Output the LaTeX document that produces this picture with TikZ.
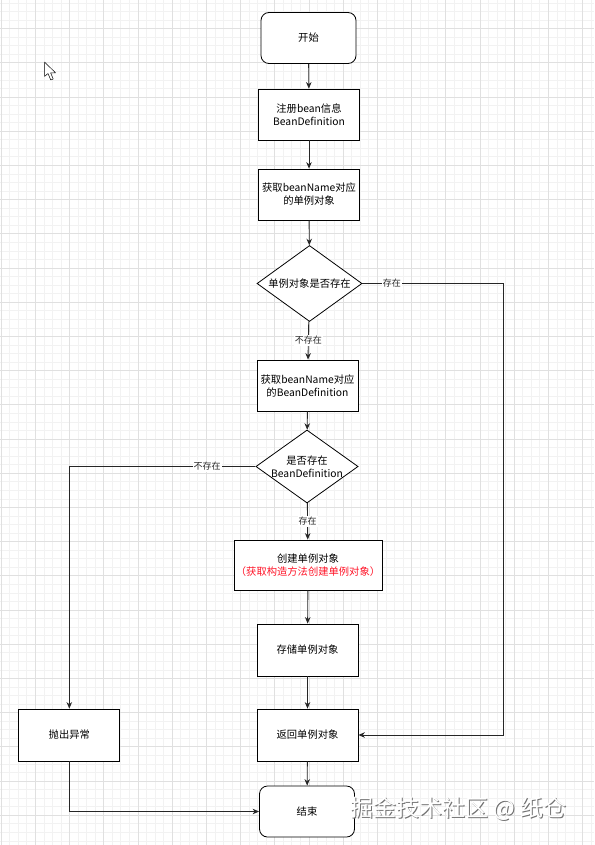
\documentclass[tikz,border=0pt]{standalone}
\usepackage{fontspec}
\setmainfont{Noto Sans CJK SC}
\usetikzlibrary{arrows.meta,positioning,shapes.geometric}

\begin{document}
\begin{tikzpicture}[
	x=1pt, y=-1pt,
	font=\fontsize{10.3}{13}\selectfont,
	>={Stealth[length=6.5pt,width=5.5pt]},
	proc/.style={
		rectangle, draw=black, line width=0.8pt, fill=white,
		minimum width=101pt, minimum height=51pt,
		align=center, inner sep=2pt
	},
	term/.style={
		proc, rounded corners=8pt, minimum width=95pt
	},
	decide/.style={
		diamond, draw=black, line width=0.8pt, fill=white,
		aspect=1.4, inner sep=0pt, align=center
	},
	arr/.style={->, line width=0.9pt, black!85},
	lbl/.style={font=\fontsize{9}{11}\selectfont, fill=white, inner sep=1pt},
	gridminor/.style={line width=0.5pt, black!5},
	gridmajor/.style={line width=0.6pt, black!12}
]

% canvas and grid
\useasboundingbox (0,0) rectangle (594,845);
\fill[white] (0,0) rectangle (594,845);
\foreach \i in {0,...,69}
	\draw[gridminor] ({1+8.55*\i},0) -- ({1+8.55*\i},845);
\foreach \i in {0,...,98}
	\draw[gridminor] (0,{2.85+8.55*\i}) -- (594,{2.85+8.55*\i});
\foreach \i in {0,...,17}
	\draw[gridmajor] ({1+34.2*\i},0) -- ({1+34.2*\i},845);
\foreach \i in {0,...,23}
	\draw[gridmajor] (0,{28.5+34.2*\i}) -- (594,{28.5+34.2*\i});

% pointer
\draw[fill=white, line width=0.5pt, line join=round]
	(44.5,62) -- (44.5,76.5) -- (48,73.5) -- (50.8,80) -- (53.2,79)
	-- (50.6,72.8) -- (55.5,72.8) -- cycle;

% main column
\node[term] (start) at (308.5, 38) {开始};
\node[proc] (reg)   at (309, 114.5) {注册bean信息\\BeanDefinition};
\node[proc] (getsgl) at (309, 194.5) {获取beanName对应\\的单例对象};
\node[decide, minimum width=105pt, minimum height=76pt] (exists) at (309.5, 283.5) {单例对象是否存在};
\node[proc] (getdef) at (307.5, 385.5) {获取beanName对应\\的BeanDefinition};
\node[decide, minimum width=102pt, minimum height=63pt] (hasdef) at (307, 466.5) {是否存在\\BeanDefinition};
\node[proc, minimum width=145pt, minimum height=50pt] (create) at (308, 565)
	{创建单例对象\\\textcolor[RGB]{255,20,40}{（获取构造方法创建单例对象）}};
\node[proc, minimum height=52pt] (store) at (307.5, 650) {存储单例对象};
\node[proc, minimum height=52pt] (ret)   at (307.5, 735) {返回单例对象};
\node[term] (finish) at (307, 811.5) {结束};

% side
\node[proc, minimum height=52pt] (throw) at (69.3, 735) {抛出异常};

\draw[arr] (start) -- (reg);
\draw[arr] (reg) -- (getsgl);
\draw[arr] (getsgl) -- (exists);
\draw[arr] (exists) -- (getdef) node[pos=0.5, lbl] {不存在};
\draw[arr] (getdef) -- (hasdef);
\draw[arr] (hasdef) -- (create) node[pos=0.5, lbl] {存在};
\draw[arr] (create) -- (store);
\draw[arr] (store) -- (ret);
\draw[arr] (ret) -- (finish);

\coordinate (rbend) at (503, 283.5);
\draw[arr] (exists.east) -- node[pos=0.21, lbl] {存在} (rbend) |- (ret.east);
\coordinate (lbend) at (69.3, 466.5);
\draw[arr] (hasdef.west) -- node[pos=0.26, lbl] {不存在} (lbend) -- (throw.north);
\draw[arr] (throw.south) |- (finish.west);

% watermark
\node[font=\fontsize{23}{26}\selectfont, text=black!55] (wmshadow) at (459.5, 810) {掘金技术社区 @ 纸仓};
\node[font=\fontsize{23}{26}\selectfont, text=white] (wm) at (458.5, 809) {掘金技术社区 @ 纸仓};

\end{tikzpicture}
\end{document}
